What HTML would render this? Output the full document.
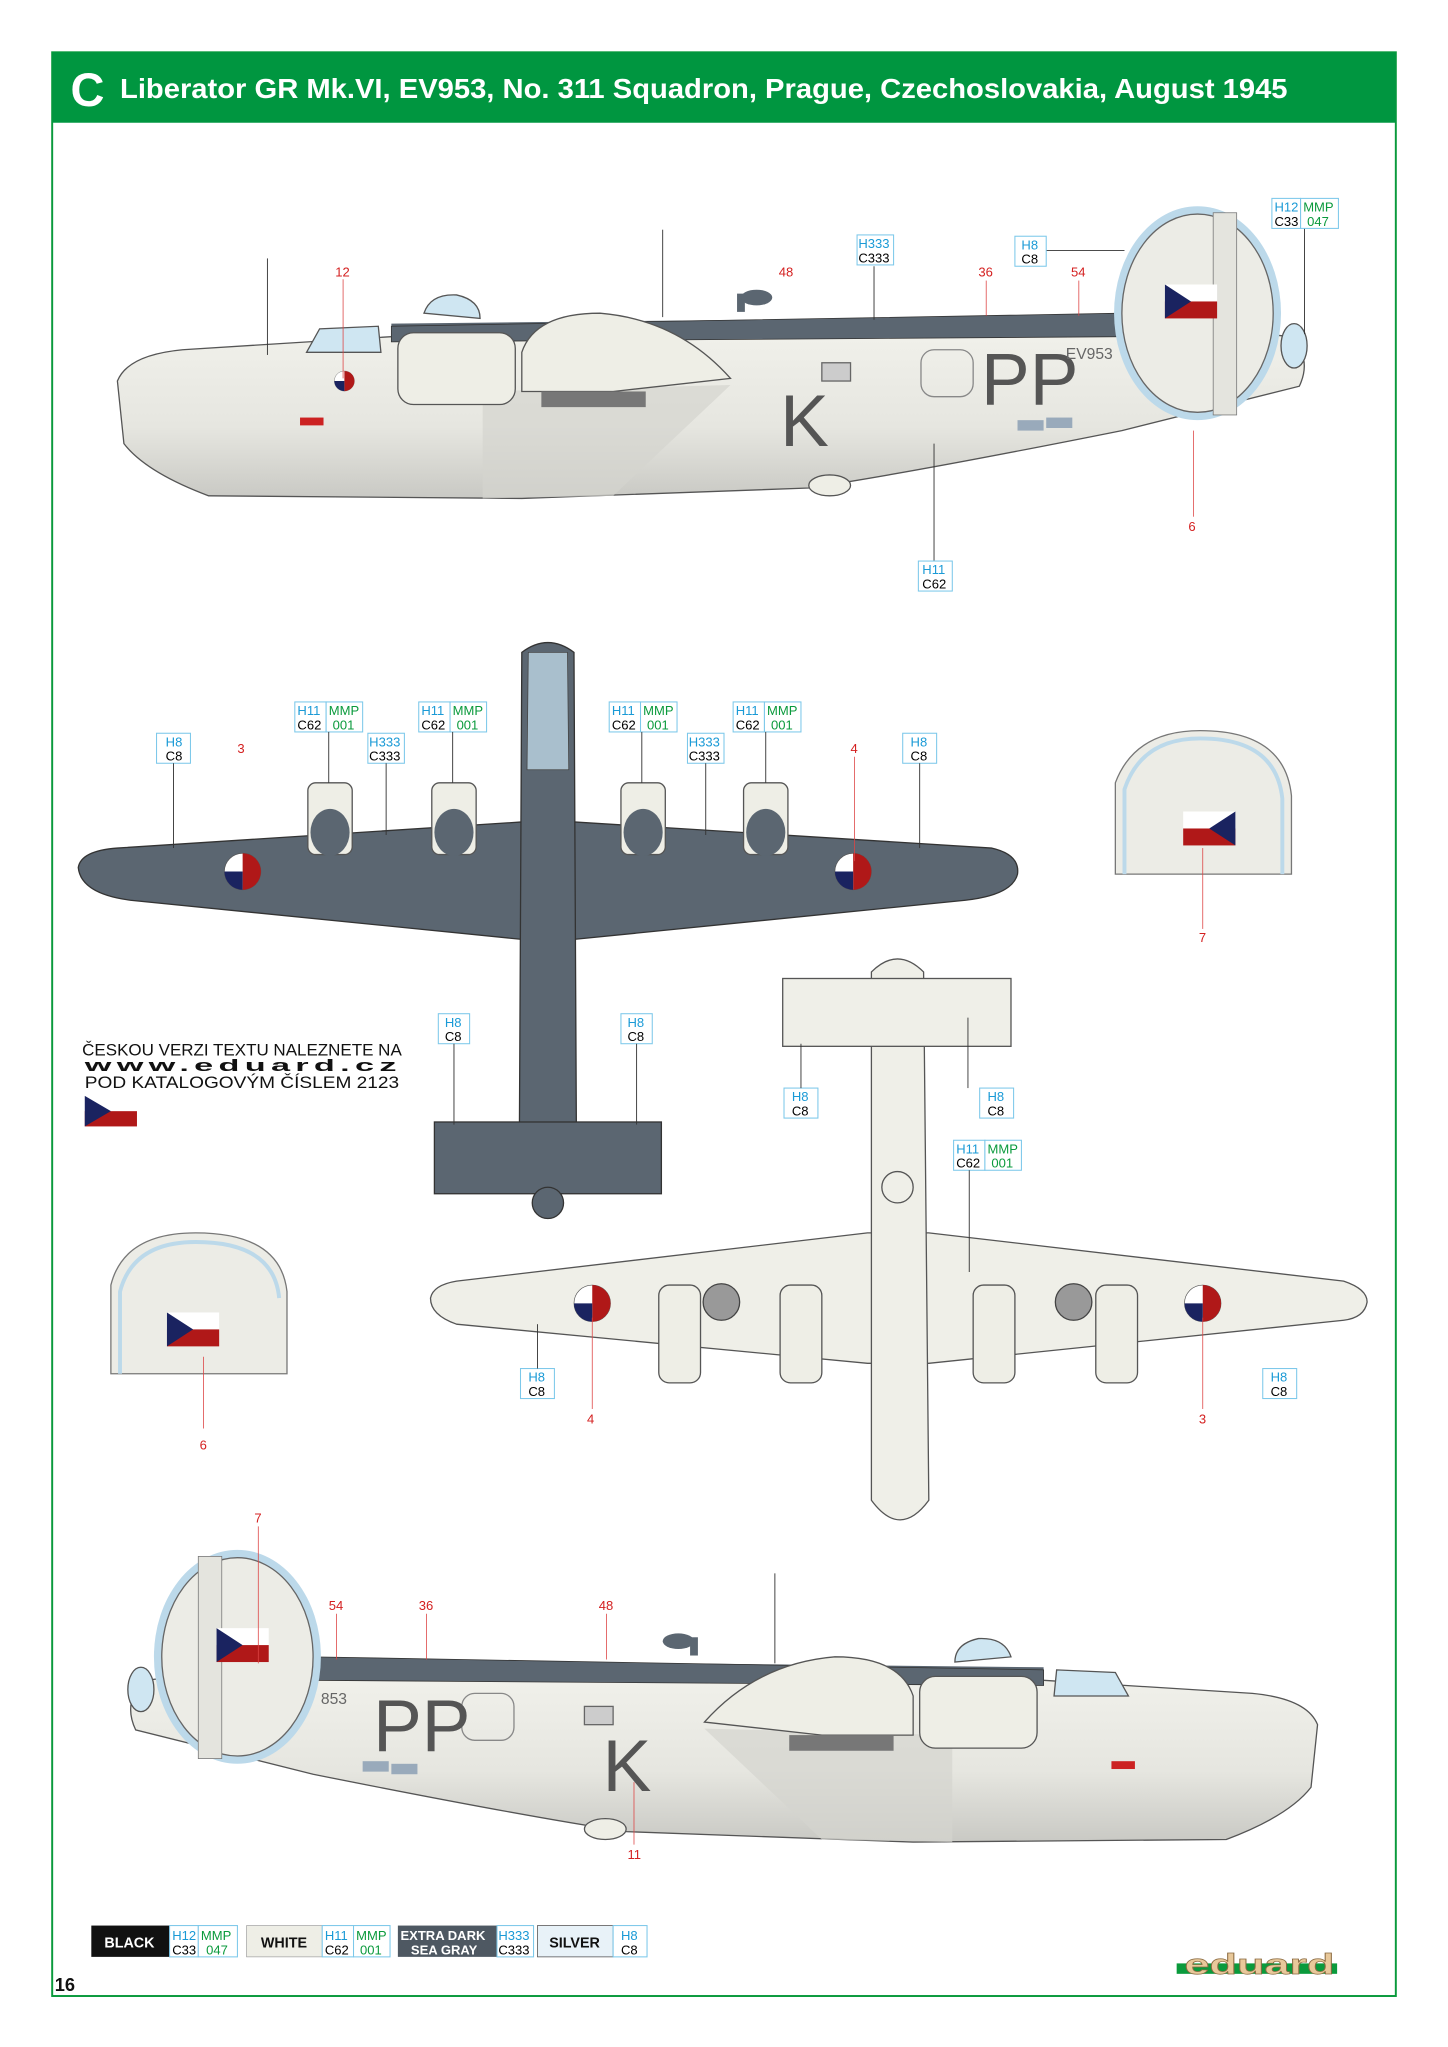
<!DOCTYPE html>
<html><head><meta charset="utf-8"><style>
html,body{margin:0;padding:0;background:#fff}
svg{display:block}
text{font-family:"Liberation Sans",Arial,sans-serif}
.b{fill:#1a9ad6;font-size:10px}
.k{fill:#000;font-size:10px}
.g{fill:#0a9a3c;font-size:10px}
.r{fill:#d42020;font-size:10px}
.bx{fill:#fff;stroke:#7cc8ea;stroke-width:0.8}
.ln{stroke:#333;stroke-width:0.7;fill:none}
.rl{stroke:#d44;stroke-width:0.6;fill:none}
.fus{fill:#eeeee6;stroke:#555;stroke-width:1}
.dk{fill:#5b6671;stroke:#333;stroke-width:1}
.lt{fill:#efefe8;stroke:#555;stroke-width:1}
</style></head><body>
<svg width="1448" height="2047" viewBox="0 0 1110 1569" xmlns="http://www.w3.org/2000/svg">
<defs>
<linearGradient id="sh" x1="0" y1="0" x2="0" y2="1"><stop offset="0" stop-color="#f2f2ec"/><stop offset="0.6" stop-color="#e6e6e0"/><stop offset="1" stop-color="#c9c9c4"/></linearGradient>
<g id="flag"><rect x="0" y="0" width="40" height="13" fill="#fff"/><rect x="0" y="13" width="40" height="13" fill="#b01818"/><polygon points="0,0 20,13 0,26" fill="#1a2360"/></g>
<g id="roundel"><circle r="14" fill="#fff" stroke="#555" stroke-width="0.5"/><path d="M0,0 L0,-14 A14,14 0 0 1 0,14 Z" fill="#b01818"/><path d="M0,0 L-14,0 A14,14 0 0 0 0,14 Z" fill="#1a2360"/></g>
<g id="side">
 <path d="M855,245 L860,242 L300,248 L300,258 L860,258 Z" fill="#5b6671"/>
 <path d="M90,292 Q98,272 140,268 L300,258 L860,245 L990,258 Q1006,275 996,296 L860,330 Q700,362 620,374 L400,382 L160,380 Q112,362 95,340 Z" fill="url(#sh)" stroke="#555"/>
 <path d="M300,250 L860,240 L860,258 L300,262 Z" fill="#5b6671" stroke="#333" stroke-width="0.6"/>
 <path d="M370,300 L560,295 L470,380 L370,382 Z" fill="#d4d4cf" opacity="0.7"/>
 <rect x="305" y="255" width="90" height="55" rx="12" class="fus"/>
 <path d="M400,270 Q410,240 460,240 Q520,245 560,290 L470,300 L400,300 Z" class="fus"/>
 <rect x="415" y="300" width="80" height="12" fill="#777"/>
 <path d="M325,240 Q330,225 350,226 Q368,230 368,244 Z" fill="#cfe6f2" stroke="#555"/>
 <path d="M235,270 L245,252 L290,250 L292,270 Z" fill="#cfe6f2" stroke="#555"/>
 <rect x="565" y="225" width="6" height="14" fill="#5b6671"/><ellipse cx="580" cy="228" rx="12" ry="6" fill="#5b6671"/>
 <ellipse cx="636" cy="372" rx="16" ry="8" class="fus"/>
 <ellipse cx="918" cy="240" rx="64" ry="82" fill="#bcd9ea"/>
 <ellipse cx="918" cy="240" rx="58" ry="76" fill="#ecece6" stroke="#666"/>
 <rect x="930" y="163" width="18" height="155" fill="#e4e4de" stroke="#777" stroke-width="0.6"/>
 <ellipse cx="992" cy="265" rx="10" ry="17" fill="#cfe6f2" stroke="#555"/>
 <rect x="630" y="278" width="22" height="14" fill="#ccc" stroke="#666"/>
 <rect x="706" y="268" width="40" height="36" rx="10" fill="none" stroke="#888"/>
 <rect x="780" y="322" width="20" height="8" fill="#9ab"/><rect x="802" y="320" width="20" height="8" fill="#9ab"/>
 <rect x="230" y="320" width="18" height="6" fill="#c22"/>
</g>
</defs>

<!-- frame -->
<rect x="40" y="40" width="1030" height="1490" fill="none" stroke="#0a9a3c" stroke-width="1.5"/>
<rect x="40" y="40" width="1030" height="54" fill="#009640"/>
<text x="54" y="81" fill="#fff" font-size="36" font-weight="bold" textLength="26" lengthAdjust="spacingAndGlyphs">C</text>
<text x="92" y="75" fill="#fff" font-size="21" font-weight="bold" textLength="895" lengthAdjust="spacingAndGlyphs">Liberator GR Mk.VI, EV953, No. 311 Squadron, Prague, Czechoslovakia, August 1945</text>

<!-- top side view -->
<use href="#side"/>
<use href="#flag" x="893" y="218"/>
<use href="#roundel" transform="translate(264,292) scale(0.55)"/>
<text x="598" y="342" font-size="56" fill="#555">K</text>
<text x="752" y="310" font-size="56" fill="#555">PP</text>
<text x="817" y="275" font-size="12" fill="#666">EV953</text>
<line x1="205" y1="198" x2="205" y2="272" class="ln"/>
<line x1="508" y1="176" x2="508" y2="243" class="ln"/>
<line x1="263" y1="214" x2="263" y2="290" class="rl"/>
<text x="257" y="212" class="r">12</text>
<text x="597" y="212" class="r">48</text>
<text x="750" y="212" class="r">36</text><line x1="756" y1="215" x2="756" y2="242" class="rl"/>
<text x="821" y="212" class="r">54</text><line x1="827" y1="215" x2="827" y2="242" class="rl"/>
<text x="911" y="407" class="r">6</text><line x1="915" y1="330" x2="915" y2="396" class="rl"/>
<line x1="670" y1="204" x2="670" y2="245" class="ln"/>
<line x1="801" y1="192" x2="862" y2="192" class="ln"/>
<line x1="1000" y1="175" x2="1000" y2="256" class="ln"/>
<line x1="716" y1="340" x2="716" y2="430" class="ln"/>

<!-- top plan (dark) -->
<path d="M60,665 Q62,652 90,650 L400,630 L440,630 L760,650 Q782,655 780,670 Q776,686 740,690 L440,720 L400,720 L100,690 Q62,685 60,665 Z" class="dk"/>
<path d="M400,500 Q420,485 440,500 L442,900 L398,900 Z" class="dk"/>
<path d="M405,500 L435,500 L436,590 L404,590 Z" fill="#a9bfcd" stroke="#444" stroke-width="0.6"/>
<rect x="333" y="860" width="174" height="55" class="dk"/>
<ellipse cx="420" cy="922" rx="12" ry="12" fill="#5b6671" stroke="#333"/>
<g fill="#eeeee6" stroke="#555">
<rect x="236" y="600" width="34" height="55" rx="6"/><rect x="331" y="600" width="34" height="55" rx="6"/>
<rect x="476" y="600" width="34" height="55" rx="6"/><rect x="570" y="600" width="34" height="55" rx="6"/>
</g>
<g fill="#5b6671"><ellipse cx="253" cy="638" rx="15" ry="18"/><ellipse cx="348" cy="638" rx="15" ry="18"/><ellipse cx="493" cy="638" rx="15" ry="18"/><ellipse cx="587" cy="638" rx="15" ry="18"/></g>
<use href="#roundel" x="186" y="668"/><use href="#roundel" x="654" y="668"/>

<!-- right tail inset -->
<path d="M855,670 L855,600 Q870,560 920,560 Q985,560 990,610 L990,670 Z" fill="#ecece6" stroke="#777"/>
<path d="M862,670 L862,605 Q875,566 920,566 Q978,566 983,612 L983,670" fill="none" stroke="#bcd9ea" stroke-width="3"/>
<g transform="translate(947,622) scale(-1,1)"><use href="#flag"/></g>
<line x1="922" y1="650" x2="922" y2="712" class="rl"/><text x="919" y="722" class="r">7</text>

<!-- bottom plan (light) -->
<path d="M330,995 Q332,985 350,982 L665,945 L712,945 L1030,982 Q1048,988 1048,998 Q1046,1010 1030,1012 L712,1045 L665,1045 L350,1015 Q330,1008 330,995 Z" class="lt"/>
<path d="M668,745 Q688,725 708,745 L712,1150 Q690,1180 668,1150 Z" class="lt"/>
<rect x="600" y="750" width="175" height="52" class="lt"/>
<circle cx="688" cy="910" r="12" class="lt"/>
<g fill="#eeeee6" stroke="#555">
<rect x="505" y="985" width="32" height="75" rx="8"/><rect x="598" y="985" width="32" height="75" rx="8"/>
<rect x="746" y="985" width="32" height="75" rx="8"/><rect x="840" y="985" width="32" height="75" rx="8"/>
</g>
<g fill="#999" stroke="#444"><circle cx="553" cy="998" r="14"/><circle cx="823" cy="998" r="14"/></g>
<use href="#roundel" x="454" y="999"/><use href="#roundel" x="922" y="999"/>

<!-- left tail inset -->
<path d="M85,1053 L85,985 Q95,945 150,945 Q215,945 220,990 L220,1053 Z" fill="#ecece6" stroke="#777"/>
<path d="M92,1053 L92,990 Q102,952 150,952 Q210,952 214,995" fill="none" stroke="#bcd9ea" stroke-width="3"/>
<use href="#flag" x="128" y="1006"/>
<line x1="156" y1="1040" x2="156" y2="1095" class="rl"/><text x="153" y="1111" class="r">6</text>

<!-- bottom side view mirrored -->
<g transform="translate(1100,1030) scale(-1,1)"><use href="#side"/></g>
<use href="#flag" x="166" y="1248"/>
<text x="462" y="1373" font-size="56" fill="#555">K</text>
<text x="286" y="1342" font-size="56" fill="#555">PP</text>
<text x="246" y="1306" font-size="12" fill="#666">853</text>
<line x1="594" y1="1206" x2="594" y2="1275" class="ln"/>
<line x1="198" y1="1170" x2="198" y2="1275" class="rl"/><text x="195" y="1167" class="r">7</text>
<text x="252" y="1234" class="r">54</text><line x1="258" y1="1237" x2="258" y2="1272" class="rl"/>
<text x="321" y="1234" class="r">36</text><line x1="327" y1="1237" x2="327" y2="1272" class="rl"/>
<text x="459" y="1234" class="r">48</text><line x1="465" y1="1237" x2="465" y2="1272" class="rl"/>
<line x1="486" y1="1366" x2="486" y2="1414" class="rl"/><text x="481" y="1425" class="r">11</text>

<!-- callouts top -->
<g>
<rect x="975" y="152" width="22" height="23" class="bx"/><rect x="997" y="152" width="29" height="23" class="bx"/>
<text x="977" y="162" class="b">H12</text><text x="999" y="162" class="g">MMP</text><text x="977" y="173" class="k">C33</text><text x="1002" y="173" class="g">047</text>
<rect x="657" y="180" width="28" height="23" class="bx"/><text x="658" y="190" class="b">H333</text><text x="658" y="201" class="k">C333</text>
<rect x="778" y="181" width="24" height="23" class="bx"/><text x="783" y="191" class="b">H8</text><text x="783" y="202" class="k">C8</text>
<rect x="704" y="430" width="26" height="23" class="bx"/><text x="707" y="440" class="b">H11</text><text x="707" y="451" class="k">C62</text>
</g>
<!-- callouts plan top -->
<g>
<rect x="120" y="562" width="26" height="23" class="bx"/><text x="127" y="572" class="b">H8</text><text x="127" y="583" class="k">C8</text><line x1="133" y1="585" x2="133" y2="650" class="ln"/>
<text x="182" y="577" class="r">3</text>
<rect x="226" y="538" width="24" height="23" class="bx"/><rect x="250" y="538" width="28" height="23" class="bx"/>
<text x="228" y="548" class="b">H11</text><text x="252" y="548" class="g">MMP</text><text x="228" y="559" class="k">C62</text><text x="255" y="559" class="g">001</text><line x1="252" y1="561" x2="252" y2="600" class="ln"/>
<rect x="282" y="562" width="28" height="23" class="bx"/><text x="283" y="572" class="b">H333</text><text x="283" y="583" class="k">C333</text><line x1="296" y1="585" x2="296" y2="640" class="ln"/>
<rect x="321" y="538" width="24" height="23" class="bx"/><rect x="345" y="538" width="28" height="23" class="bx"/>
<text x="323" y="548" class="b">H11</text><text x="347" y="548" class="g">MMP</text><text x="323" y="559" class="k">C62</text><text x="350" y="559" class="g">001</text><line x1="347" y1="561" x2="347" y2="600" class="ln"/>
<rect x="467" y="538" width="24" height="23" class="bx"/><rect x="491" y="538" width="28" height="23" class="bx"/>
<text x="469" y="548" class="b">H11</text><text x="493" y="548" class="g">MMP</text><text x="469" y="559" class="k">C62</text><text x="496" y="559" class="g">001</text><line x1="492" y1="561" x2="492" y2="600" class="ln"/>
<rect x="527" y="562" width="28" height="23" class="bx"/><text x="528" y="572" class="b">H333</text><text x="528" y="583" class="k">C333</text><line x1="541" y1="585" x2="541" y2="640" class="ln"/>
<rect x="562" y="538" width="24" height="23" class="bx"/><rect x="586" y="538" width="28" height="23" class="bx"/>
<text x="564" y="548" class="b">H11</text><text x="588" y="548" class="g">MMP</text><text x="564" y="559" class="k">C62</text><text x="591" y="559" class="g">001</text><line x1="587" y1="561" x2="587" y2="600" class="ln"/>
<text x="652" y="577" class="r">4</text><line x1="655" y1="580" x2="655" y2="660" class="rl"/>
<rect x="692" y="562" width="26" height="23" class="bx"/><text x="698" y="572" class="b">H8</text><text x="698" y="583" class="k">C8</text><line x1="705" y1="585" x2="705" y2="650" class="ln"/>
<rect x="336" y="777" width="24" height="23" class="bx"/><text x="341" y="787" class="b">H8</text><text x="341" y="798" class="k">C8</text><line x1="348" y1="800" x2="348" y2="862" class="ln"/>
<rect x="476" y="777" width="24" height="23" class="bx"/><text x="481" y="787" class="b">H8</text><text x="481" y="798" class="k">C8</text><line x1="488" y1="800" x2="488" y2="862" class="ln"/>
</g>
<!-- callouts plan bottom -->
<g>
<rect x="601" y="834" width="26" height="23" class="bx"/><text x="607" y="844" class="b">H8</text><text x="607" y="855" class="k">C8</text><line x1="614" y1="800" x2="614" y2="834" class="ln"/>
<rect x="751" y="834" width="26" height="23" class="bx"/><text x="757" y="844" class="b">H8</text><text x="757" y="855" class="k">C8</text><line x1="742" y1="780" x2="742" y2="834" class="ln"/>
<rect x="731" y="874" width="24" height="23" class="bx"/><rect x="755" y="874" width="28" height="23" class="bx"/>
<text x="733" y="884" class="b">H11</text><text x="757" y="884" class="g">MMP</text><text x="733" y="895" class="k">C62</text><text x="760" y="895" class="g">001</text><line x1="743" y1="897" x2="743" y2="975" class="ln"/>
<rect x="399" y="1049" width="26" height="23" class="bx"/><text x="405" y="1059" class="b">H8</text><text x="405" y="1070" class="k">C8</text><line x1="412" y1="1015" x2="412" y2="1049" class="ln"/>
<text x="450" y="1091" class="r">4</text><line x1="454" y1="1010" x2="454" y2="1080" class="rl"/>
<text x="919" y="1091" class="r">3</text><line x1="922" y1="1010" x2="922" y2="1080" class="rl"/>
<rect x="968" y="1049" width="26" height="23" class="bx"/><text x="974" y="1059" class="b">H8</text><text x="974" y="1070" class="k">C8</text>
</g>

<!-- czech text -->
<text x="63" y="809" font-size="12.5" fill="#111" textLength="245" lengthAdjust="spacingAndGlyphs">ČESKOU VERZI TEXTU NALEZNETE NA</text>
<text x="65" y="821" font-size="13" font-weight="bold" fill="#111" textLength="243" lengthAdjust="spacingAndGlyphs" letter-spacing="2">www.eduard.cz</text>
<text x="65" y="834" font-size="12.5" fill="#111" textLength="241" lengthAdjust="spacingAndGlyphs">POD KATALOGOVÝM ČÍSLEM 2123</text>
<g transform="translate(65,840) scale(1,0.9)"><use href="#flag"/></g>

<!-- legend -->
<rect x="70" y="1476" width="60" height="24" fill="#111"/><text x="80" y="1493" fill="#fff" font-size="11" font-weight="bold">BLACK</text>
<rect x="130" y="1476" width="22" height="24" class="bx"/><rect x="152" y="1476" width="30" height="24" class="bx"/>
<text x="132" y="1487" class="b">H12</text><text x="154" y="1487" class="g">MMP</text><text x="132" y="1498" class="k">C33</text><text x="158" y="1498" class="g">047</text>
<rect x="189" y="1476" width="58" height="24" fill="#eeeee6" stroke="#999" stroke-width="0.5"/><text x="200" y="1493" font-size="11" font-weight="bold" fill="#111">WHITE</text>
<rect x="247" y="1476" width="24" height="24" class="bx"/><rect x="271" y="1476" width="28" height="24" class="bx"/>
<text x="249" y="1487" class="b">H11</text><text x="273" y="1487" class="g">MMP</text><text x="249" y="1498" class="k">C62</text><text x="276" y="1498" class="g">001</text>
<rect x="305" y="1476" width="76" height="24" fill="#4e5862"/><text x="307" y="1487" fill="#fff" font-size="10" font-weight="bold">EXTRA DARK</text><text x="315" y="1498" fill="#fff" font-size="10" font-weight="bold">SEA GRAY</text>
<rect x="381" y="1476" width="28" height="24" class="bx"/><text x="382" y="1487" class="b">H333</text><text x="382" y="1498" class="k">C333</text>
<rect x="412" y="1476" width="58" height="24" fill="#e8f2f8" stroke="#555" stroke-width="0.6"/><text x="421" y="1493" font-size="11" font-weight="bold" fill="#111">SILVER</text>
<rect x="470" y="1476" width="26" height="24" class="bx"/><text x="476" y="1487" class="b">H8</text><text x="476" y="1498" class="k">C8</text>

<text x="42" y="1526" font-size="14" font-weight="bold" fill="#111">16</text>
<rect x="902" y="1505" width="123" height="8" fill="#0a9a3c"/>
<text x="908" y="1513" font-size="22" font-weight="bold" fill="#e8c89a" stroke="#8a6a40" stroke-width="0.5" textLength="115" lengthAdjust="spacingAndGlyphs">eduard</text>
</svg>
</body></html>
